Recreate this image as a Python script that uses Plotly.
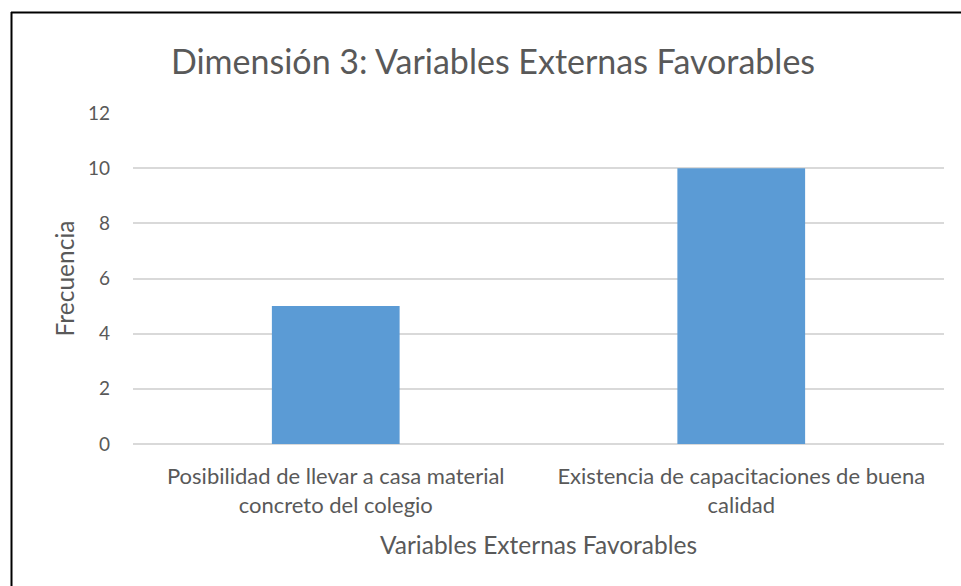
import plotly.graph_objects as go

categories = ["Posibilidad de llevar a casa material<br>concreto del colegio",
              "Existencia de capacitaciones de buena<br>calidad"]
values = [5, 10]
y_ticks = [0, 2, 4, 6, 8, 10, 12]

W, H = 961, 586
ML, MR, MT, MB = 133, 17, 113, 142
pw, ph = W - ML - MR, H - MT - MB

def px_x(x):
    return (x - ML) / pw

def px_y(y):
    return (H - MB - y) / ph

txt = "#595959"
font = "Lato"

fig = go.Figure(go.Bar(x=categories, y=values, marker_color="#5B9BD5",
                       marker_line_width=0, width=0.315))

fig.update_layout(
    width=W, height=H,
    margin=dict(l=ML, r=MR, t=MT, b=MB),
    paper_bgcolor="white", plot_bgcolor="white",
    font=dict(family=font, color=txt),
    title=dict(text="Dimensión 3: Variables Externas Favorables",
               x=493 / W, xanchor="center", y=1 - 62 / H, yanchor="middle",
               font=dict(size=34, color=txt, family=font)),
    showlegend=False,
)
fig.update_xaxes(title=dict(text="Variables Externas Favorables", font=dict(size=24.5, color=txt), standoff=20),
                 tickfont=dict(size=22, color=txt), showgrid=False, showline=False, ticks="",
                 ticklabelstandoff=17)
fig.update_yaxes(title=dict(text="Frecuencia", font=dict(size=24.5, color=txt), standoff=6),
                 range=[0, 12], tickvals=y_ticks, tickfont=dict(size=19, color=txt),
                 showgrid=True, gridcolor="#D9D9D9", gridwidth=1.5, zeroline=True,
                 zerolinecolor="#D9D9D9", zerolinewidth=1.5, ticks="", ticklabelstandoff=22)

# frame edges visible in the reference (top and left)
fig.add_shape(type="line", xref="paper", yref="paper",
              x0=px_x(11), x1=px_x(W + 5), y0=px_y(12.5), y1=px_y(12.5),
              line=dict(color="black", width=2))
fig.add_shape(type="line", xref="paper", yref="paper",
              x0=px_x(11.5), x1=px_x(11.5), y0=px_y(12), y1=px_y(H + 5),
              line=dict(color="black", width=2))

fig.write_html("out.html", config={"displayModeBar": False},
               post_script="document.body.style.margin='0';document.body.style.overflow='hidden';")
